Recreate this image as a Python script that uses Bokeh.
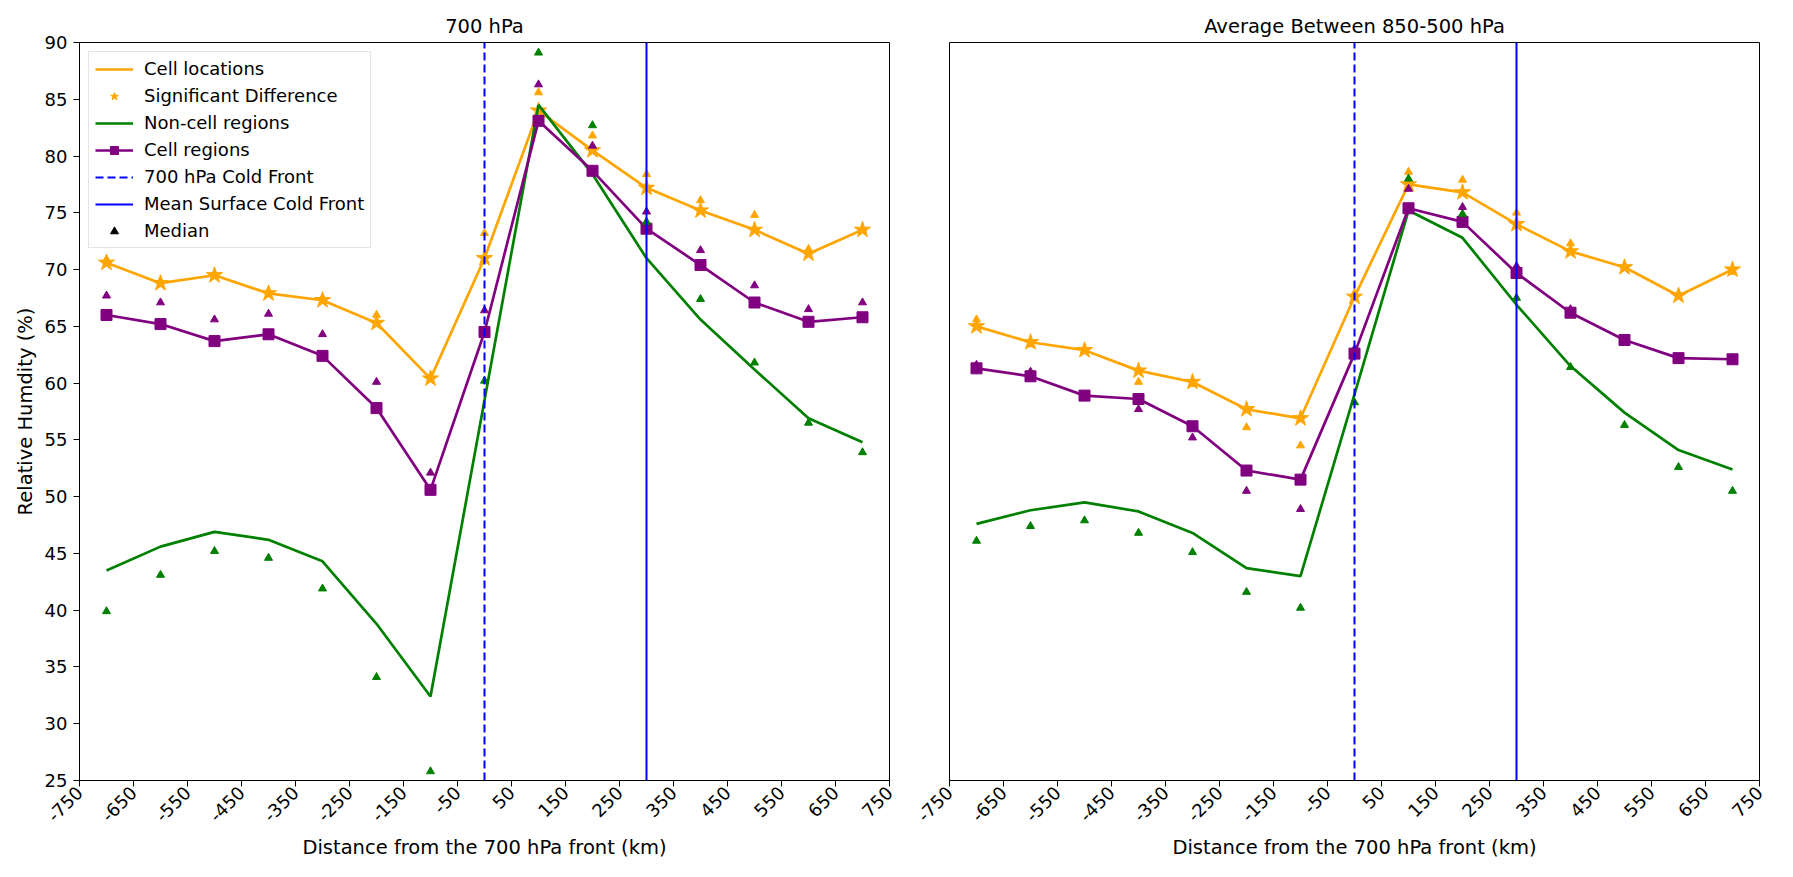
import math
from bokeh.plotting import figure
from bokeh.models import Legend, LegendItem, FixedTicker, ColumnDataSource, Range1d
from bokeh.layouts import row
from bokeh.embed import file_html
from bokeh.resources import INLINE

# ---------------- data ----------------
distance_km = [-700, -600, -500, -400, -300, -200, -100, 0, 100, 200, 300, 400, 500, 600, 700]
x_ticks = list(range(-750, 751, 100))
x_tick_labels = [str(t) for t in x_ticks]
y_ticks = list(range(25, 91, 5))
x_limits = (-750, 750)
y_limits = (25, 90)

front_700_km = 0
surface_front_km = 300

# 700 hPa panel
cell_loc_700 = [70.6, 68.8, 69.5, 67.9, 67.3, 65.3, 60.4, 71.0, 84.0, 80.5, 77.2, 75.2, 73.5, 71.4, 73.5]
cell_loc_med_700 = [70.9, 69.0, 69.6, 68.1, 67.5, 66.0, 60.6, 73.2, 85.6, 81.8, 78.4, 76.1, 74.8, 71.8, 73.5]
noncell_700 = [43.5, 45.6, 46.9, 46.2, 44.3, 38.8, 32.4, 58.5, 84.5, 78.4, 71.0, 65.6, 61.2, 56.9, 54.8]
noncell_med_700 = [39.9, 43.1, 45.2, 44.6, 41.9, 34.1, 25.8, 60.2, 89.1, 82.7, 74.2, 67.4, 61.8, 56.5, 53.9]
cellreg_700 = [66.0, 65.2, 63.7, 64.3, 62.4, 57.8, 50.6, 64.5, 83.1, 78.7, 73.6, 70.4, 67.1, 65.4, 65.8]
cellreg_med_700 = [67.7, 67.1, 65.6, 66.1, 64.3, 60.1, 52.1, 66.4, 86.3, 80.9, 75.1, 71.7, 68.6, 66.5, 67.1]

# 850-500 hPa average panel
cell_loc_avg = [65.0, 63.6, 62.9, 61.1, 60.1, 57.7, 56.9, 67.6, 77.5, 76.8, 74.0, 71.6, 70.2, 67.7, 70.0]
cell_loc_med_avg = [65.6, 63.4, 62.9, 60.1, 59.9, 56.1, 54.5, 67.9, 78.6, 77.9, 75.0, 72.3, 70.3, 67.9, 69.8]
noncell_avg = [47.6, 48.8, 49.5, 48.7, 46.8, 43.7, 43.0, 59.0, 75.2, 72.8, 66.9, 61.5, 57.4, 54.1, 52.4]
noncell_med_avg = [46.1, 47.4, 47.9, 46.8, 45.1, 41.6, 40.2, 58.3, 78.0, 74.9, 67.5, 61.4, 56.3, 52.6, 50.5]
cellreg_avg = [61.3, 60.6, 58.9, 58.6, 56.2, 52.3, 51.5, 62.6, 75.4, 74.2, 69.7, 66.2, 63.8, 62.2, 62.1]
cellreg_med_avg = [61.6, 61.0, 58.9, 57.7, 55.2, 50.5, 48.9, 63.0, 77.1, 75.5, 70.3, 66.5, 63.9, 62.2, 62.2]

ORANGE = "#FFA500"
GREEN = "#008000"
PURPLE = "#800080"
BLUE = "#0000FF"
FONT = "DejaVu Sans"
TICK_PX = 18


def make_panel(title, loc, loc_med, non, non_med, creg, creg_med, left_border, right_border, show_y):
    p = figure(frame_width=810, frame_height=738,
               x_range=Range1d(*x_limits), y_range=Range1d(*y_limits),
               output_backend="svg", toolbar_location=None, title=title,
               min_border_left=left_border, min_border_right=right_border,
               min_border_top=42, min_border_bottom=84,
               background_fill_color="white", border_fill_color="white")
    p.title.align = "center"
    p.title.text_font = FONT
    p.title.text_font_size = "19.5px"
    p.title.text_font_style = "normal"
    p.title.text_color = "black"
    p.outline_line_color = "black"
    p.outline_line_width = 1
    p.outline_line_alpha = 1
    p.xgrid.grid_line_color = None
    p.ygrid.grid_line_color = None

    src = ColumnDataSource(dict(x=distance_km, loc=loc, loc_med=loc_med, non=non,
                                non_med=non_med, creg=creg, creg_med=creg_med))

    r_loc = p.line("x", "loc", source=src, line_color=ORANGE, line_width=2.7)
    r_star = p.scatter("x", "loc", source=src, marker="star", size=17,
                       fill_color=ORANGE, line_color=ORANGE)
    r_non = p.line("x", "non", source=src, line_color=GREEN, line_width=2.7)
    r_creg = p.line("x", "creg", source=src, line_color=PURPLE, line_width=2.7)
    r_sq = p.scatter("x", "creg", source=src, marker="square", size=11,
                     fill_color=PURPLE, line_color=PURPLE)
    p.scatter("x", "loc_med", source=src, marker="triangle", size=8,
              fill_color=ORANGE, line_color=ORANGE)
    p.scatter("x", "non_med", source=src, marker="triangle", size=8,
              fill_color=GREEN, line_color=GREEN)
    p.scatter("x", "creg_med", source=src, marker="triangle", size=8,
              fill_color=PURPLE, line_color=PURPLE)

    fronts = ColumnDataSource(dict(xd=[front_700_km, front_700_km],
                                   xs=[surface_front_km, surface_front_km],
                                   y=list(y_limits)))
    r_dash = p.line("xd", "y", source=fronts, line_color=BLUE, line_width=2, line_dash="8 4")
    r_solid = p.line("xs", "y", source=fronts, line_color=BLUE, line_width=2)

    p.xaxis.ticker = FixedTicker(ticks=x_ticks)
    p.xaxis.major_label_overrides = {t: lab for t, lab in zip(x_ticks, x_tick_labels)}
    p.xaxis.major_label_orientation = math.pi / 4
    p.xaxis.axis_label = "Distance from the 700 hPa front (km)"
    for ax in [p.xaxis[0], p.yaxis[0]]:
        ax.major_label_text_font = FONT
        ax.major_label_text_font_size = f"{TICK_PX}px"
        ax.major_label_text_color = "black"
        ax.axis_label_text_font = FONT
        ax.axis_label_text_font_size = "19.5px"
        ax.axis_label_text_font_style = "normal"
        ax.axis_label_text_color = "black"
        ax.major_tick_out = 6
        ax.major_tick_in = 0
        ax.minor_tick_line_color = None
        ax.major_tick_line_color = "black"
        ax.axis_line_color = "black"
    p.xaxis.axis_label_standoff = 5
    p.xaxis.major_label_standoff = 3

    p.yaxis.ticker = FixedTicker(ticks=y_ticks)
    if show_y:
        p.yaxis.axis_label = "Relative Humdity (%)"
        p.yaxis.axis_label_standoff = 5
        p.yaxis.major_label_standoff = 6
    else:
        p.yaxis.visible = False
    return p, r_loc, r_star, r_non, r_creg, r_sq, r_dash, r_solid


p1, r_loc, r_star, r_non, r_creg, r_sq, r_dash, r_solid = make_panel(
    "700 hPa", cell_loc_700, cell_loc_med_700, noncell_700, noncell_med_700,
    cellreg_700, cellreg_med_700, 79, 20, True)
p2, *_ = make_panel(
    "Average Between 850-500 hPa", cell_loc_avg, cell_loc_med_avg, noncell_avg,
    noncell_med_avg, cellreg_avg, cellreg_med_avg, 40, 18, False)

# legend proxy for the black "Median" marker (a single NaN point, never drawn in the plot)
proxy = ColumnDataSource(dict(x=[float("nan")], y=[float("nan")]))
r_med = p1.scatter("x", "y", source=proxy, marker="triangle", size=8,
                   fill_color="black", line_color="black")

legend = Legend(items=[
    LegendItem(label="Cell locations", renderers=[r_loc]),
    LegendItem(label="Significant Difference", renderers=[r_star]),
    LegendItem(label="Non-cell regions", renderers=[r_non]),
    LegendItem(label="Cell regions", renderers=[r_creg, r_sq]),
    LegendItem(label="700 hPa Cold Front", renderers=[r_dash]),
    LegendItem(label="Mean Surface Cold Front", renderers=[r_solid]),
    LegendItem(label="Median", renderers=[r_med]),
], location="top_left")
legend.label_text_font = FONT
legend.label_text_font_size = "18px"
legend.label_text_color = "black"
legend.glyph_width = 38
legend.glyph_height = 20
legend.label_height = 20
legend.spacing = 6
legend.padding = 6
legend.margin = 9
legend.label_standoff = 11
legend.border_line_color = "#cccccc"
legend.border_line_width = 1
legend.background_fill_alpha = 0.8
p1.add_layout(legend)

layout = row(p1, p2)
open("out.html", "w").write(file_html(layout, INLINE))
